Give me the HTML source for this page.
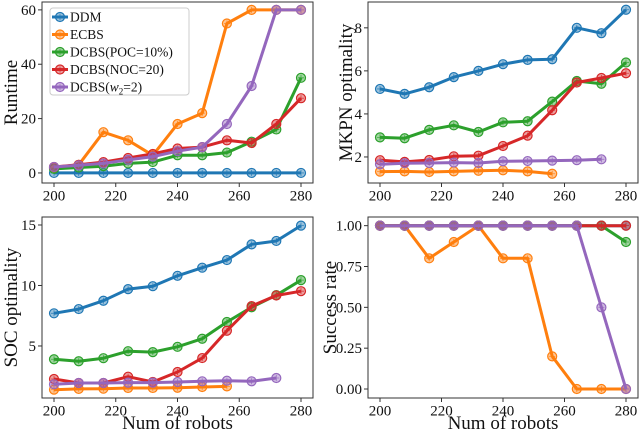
<!DOCTYPE html>
<html><head><meta charset="utf-8"><style>
body{margin:0;background:#fff}
svg{display:block;font-family:"Liberation Serif",serif}
</style></head><body>
<svg id="chart" width="640" height="434" viewBox="0 0 640 434" xmlns="http://www.w3.org/2000/svg"></svg>
<script>
const robots = [200,208,216,224,232,240,248,256,264,272,280];
const seriesNames = ["DDM","ECBS","DCBS(POC=10%)","DCBS(NOC=20)","DCBS(w2=2)"];
const colors = ["#1f77b4","#ff7f0e","#2ca02c","#d62728","#9467bd"];
const runtimeDDM = [0,0,0,0,0,0,0,0,0,0,0];
const runtimeECBS = [2,3,15,12,6.5,18,22,55,60,60,60];
const runtimePOC = [1.5,2,2.5,3.5,4,6.5,6.5,7.5,11.5,16,35];
const runtimeNOC = [2.2,3,4,5.5,7,9,9.5,12,11,18,27.5];
const runtimeW2 = [2.2,2.8,3.5,4.8,6,8,9.5,18,32,60,60];
const mkpnDDM = [5.16,4.93,5.24,5.71,6.0,6.31,6.51,6.54,8.0,7.75,8.84];
const mkpnECBS = [1.32,1.33,1.30,1.33,1.36,1.38,1.33,1.22];
const mkpnPOC = [2.91,2.87,3.26,3.47,3.16,3.61,3.66,4.57,5.53,5.40,6.39];
const mkpnNOC = [1.85,1.77,1.86,2.03,2.06,2.51,2.99,4.17,5.46,5.67,5.89];
const mkpnW2 = [1.66,1.71,1.72,1.74,1.72,1.80,1.81,1.83,1.85,1.89];
const socDDM = [7.7,8.05,8.74,9.7,9.94,10.8,11.47,12.1,13.4,13.68,14.95];
const socECBS = [1.39,1.45,1.47,1.53,1.53,1.55,1.61,1.66];
const socPOC = [3.9,3.74,3.99,4.57,4.49,4.93,5.6,6.98,8.2,9.2,10.44];
const socNOC = [2.27,1.94,1.94,2.46,2.02,2.85,4.0,6.26,8.3,9.17,9.53];
const socW2 = [1.83,1.94,1.94,1.97,1.97,2.02,2.08,2.13,2.08,2.35];
const succDDM = [1,1,1,1,1,1,1,1,1,1,1];
const succECBS = [1,1,0.8,0.9,1,0.8,0.8,0.2,0,0,0];
const succPOC = [1,1,1,1,1,1,1,1,1,1,0.9];
const succNOC = [1,1,1,1,1,1,1,1,1,1,1];
const succW2 = [1,1,1,1,1,1,1,1,1,0.5,0];
const xTicks = [200,220,240,260,280];
const runtimeTicks = [0,20,40,60];
const mkpnTicks = [2,4,6,8];
const socTicks = [5,10,15];
const succTicks = [0,0.25,0.5,0.75,1.0];
const succTickLabels = ["0.00","0.25","0.50","0.75","1.00"];

const NS="http://www.w3.org/2000/svg";
const svg=document.getElementById('chart');
function mk(tag,attrs,parent){const e=document.createElementNS(NS,tag);for(const k in attrs)e.setAttribute(k,attrs[k]);(parent||svg).appendChild(e);return e;}

const panels=[
 {id:'runtime',L:42,R:313,T:2,B:183,ymin:-3.7,ymax:62.9,title:'Runtime',tx:10,ticks:runtimeTicks,labels:runtimeTicks.map(String),data:[runtimeDDM,runtimeECBS,runtimePOC,runtimeNOC,runtimeW2],xlabel:false,legend:true},
 {id:'mkpn',L:368,R:638,T:2,B:183,ymin:0.79,ymax:9.2,title:'MKPN optimality',tx:345,ticks:mkpnTicks,labels:mkpnTicks.map(String),data:[mkpnDDM,mkpnECBS,mkpnPOC,mkpnNOC,mkpnW2],xlabel:false},
 {id:'soc',L:42,R:313,T:217,B:398,ymin:0.7,ymax:15.66,title:'SOC optimality',tx:10,ticks:socTicks,labels:socTicks.map(String),data:[socDDM,socECBS,socPOC,socNOC,socW2],xlabel:true},
 {id:'success',L:368,R:638,T:217,B:398,ymin:-0.055,ymax:1.053,title:'Success rate',tx:329,ticks:succTicks,labels:succTickLabels,data:[succDDM,succECBS,succPOC,succNOC,succW2],xlabel:true}
];

function marker(g,x,y,c){
  const m=mk('circle',{cx:x,cy:y,r:4.5,fill:c,'fill-opacity':0.45,stroke:c,'stroke-width':1.2},g);
  
  
  mk('path',{d:`M${x-3} ${y}H${x+3}M${x} ${y-3}V${y+3}`,stroke:c,'stroke-width':0.8,'stroke-opacity':0.8},g);
}

panels.forEach(p=>{
  const g=mk('g',{});
  const x0=p.L+12,x1=p.R-12;
  const sx=v=>x0+(v-200)/80*(x1-x0);
  const sy=v=>p.B-(v-p.ymin)/(p.ymax-p.ymin)*(p.B-p.T);
  p.data.forEach((arr,si)=>{
    const sg=mk('g',{},g);
    const pts=arr.map((v,i)=>sx(robots[i]).toFixed(1)+','+sy(v).toFixed(1)).join(' ');
    const pl=mk('polyline',{points:pts,fill:'none',stroke:colors[si],'stroke-width':3,'stroke-linejoin':'round'},sg);
    
    
    arr.forEach((v,i)=>marker(sg,sx(robots[i]),sy(v),colors[si]));
  });
  mk('rect',{x:p.L,y:p.T,width:p.R-p.L,height:p.B-p.T,fill:'none',stroke:'#333','stroke-width':1,},g);
  xTicks.forEach(t=>{
    const x=sx(t);
    mk('line',{x1:x,x2:x,y1:p.B,y2:p.B+4,stroke:'#333'},g);
    const tx=mk('text',{x:x,y:p.B+17.5,'text-anchor':'middle','font-size':15,fill:'#111'},g);tx.textContent=t;
    
  });
  p.ticks.forEach((t,i)=>{
    const y=sy(t);
    mk('line',{x1:p.L-4,x2:p.L,y1:y,y2:y,stroke:'#333'},g);
    const tx=mk('text',{x:p.L-6,y:y+5,'text-anchor':'end','font-size':15,fill:'#111'},g);tx.textContent=p.labels[i];
    
  });
  const cy=(p.T+p.B)/2;
  const yl=mk('text',{x:0,y:0,transform:`translate(${p.tx+7},${cy}) rotate(-90)`,'text-anchor':'middle','font-size':19,fill:'#111',},g);
  yl.textContent=p.title;
  if(p.xlabel){
    const xl=mk('text',{x:(p.L+p.R)/2,y:429,'text-anchor':'middle','font-size':19,fill:'#111',},g);
    xl.textContent='Num of robots';
  }
  if(p.legend){
    const lg=mk('g',{},g);
    mk('rect',{x:50,y:8,width:139,height:87,rx:3,fill:'#fff','fill-opacity':0.85,stroke:'#ccc'},lg);
    const ys=[17,34.5,52,69.5,87];
    seriesNames.forEach((n,i)=>{
      const e=mk('g',{},lg);
      mk('line',{x1:52,x2:68,y1:ys[i],y2:ys[i],stroke:colors[i],'stroke-width':3},e);
      marker(e,60,ys[i],colors[i]);
      const t=mk('text',{x:70,y:ys[i]+4.5,'font-size':13.5,fill:'#111'},e);
      if(i===4){t.innerHTML='DCBS(<tspan font-style="italic">w</tspan><tspan font-size="9" dy="3">2</tspan><tspan dy="-3">=2)</tspan>';}
      else t.textContent=n;
    });
  }
});
</script>
</body></html>
